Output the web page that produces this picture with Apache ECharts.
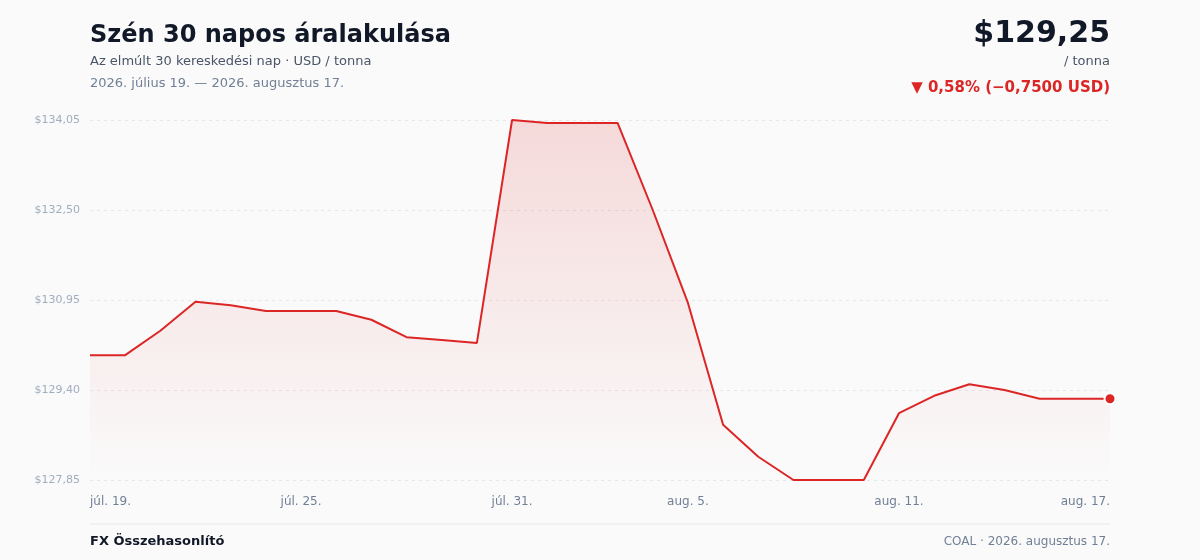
<!DOCTYPE html>
<html>
<head>
<meta charset="utf-8">
<script src="https://cdn.jsdelivr.net/npm/echarts@6/dist/echarts.min.js"></script>
<style>
html,body{margin:0;padding:0;background:#fafafa;}
#chart{width:1200px;height:560px;}
</style>
</head>
<body>
<div id="chart"></div>
<script>
const categories = ["júl. 19.","júl. 20.","júl. 21.","júl. 22.","júl. 23.","júl. 24.","júl. 25.","júl. 26.","júl. 27.","júl. 28.","júl. 29.","júl. 30.","júl. 31.","aug. 1.","aug. 2.","aug. 3.","aug. 4.","aug. 5.","aug. 6.","aug. 7.","aug. 8.","aug. 9.","aug. 10.","aug. 11.","aug. 12.","aug. 13.","aug. 14.","aug. 15.","aug. 16.","aug. 17."];
const prices = [130.00,130.00,130.42,130.92,130.86,130.76,130.76,130.76,130.61,130.31,130.26,130.21,134.05,134.00,134.00,134.00,132.50,130.90,128.80,128.25,127.85,127.85,127.85,129.00,129.30,129.50,129.40,129.25,129.25,129.25];
const shownTickLabels = ["júl. 19.","júl. 25.","júl. 31.","aug. 5.","aug. 11.","aug. 17."];
const yMin = 127.85, yMax = 134.05, yStep = 1.55;

const FONT = '"DejaVu Sans", sans-serif';
const chart = echarts.init(document.getElementById('chart'), null, {renderer:'canvas'});
const fmtUSD = v => '$' + v.toFixed(2).replace('.', ',');
const T = (text, pos, size, weight, color) => Object.assign({text, padding: 0,
  textStyle: {fontFamily: FONT, fontSize: size, fontWeight: weight, color}}, pos);

chart.setOption({
  backgroundColor: '#fafafa',
  textStyle: {fontFamily: FONT},
  animation: false,
  title: [
    T('Szén 30 napos áralakulása', {left: 90, top: 24}, 24, 'bold', '#111827'),
    T('Az elmúlt 30 kereskedési nap · USD / tonna', {left: 90, top: 55}, 13, 'normal', '#4a5568'),
    T('2026. július 19. — 2026. augusztus 17.', {left: 90, top: 77}, 13, 'normal', '#718096'),
    T('$129,25', {right: 90, top: 19}, 30, 'bold', '#111827'),
    T('/ tonna', {right: 90, top: 55}, 13, 'normal', '#4a5568'),
    T('▼ 0,58% (−0,7500 USD)', {right: 90, top: 81}, 15, 'bold', '#dc2626'),
    T('FX Összehasonlító', {left: 90, top: 535}, 13, 'bold', '#111827'),
    T('COAL · 2026. augusztus 17.', {right: 90, top: 536}, 12, 'normal', '#718096')
  ],
  graphic: [
    {type: 'line', shape: {x1: 90, y1: 524, x2: 1110, y2: 524},
     style: {stroke: '#e8e9ec', lineWidth: 1}}
  ],
  grid: {left: 90, right: 90, top: 120, bottom: 80, containLabel: false},
  xAxis: {
    type: 'category',
    data: categories,
    boundaryGap: false,
    axisLine: {show: false},
    axisTick: {show: false},
    axisLabel: {
      interval: (i, v) => shownTickLabels.includes(v),
      color: '#718096', fontSize: 12, fontFamily: FONT, margin: 16,
      alignMinLabel: 'left', alignMaxLabel: 'right'
    },
    splitLine: {show: false}
  },
  yAxis: {
    type: 'value',
    min: yMin, max: yMax, interval: yStep,
    axisLine: {show: false},
    axisTick: {show: false},
    axisLabel: {formatter: fmtUSD, color: '#a0aec0', fontSize: 11, fontFamily: FONT, margin: 10},
    splitLine: {show: true, lineStyle: {color: '#e5e7eb', type: [3, 4], width: 1}}
  },
  series: [
    {
      type: 'line',
      data: prices,
      symbol: 'none',
      lineStyle: {color: '#dc2626', width: 2},
      areaStyle: {
        color: new echarts.graphic.LinearGradient(0, 0, 0, 1, [
          {offset: 0, color: 'rgba(220,38,38,0.22)'},
          {offset: 1, color: 'rgba(220,38,38,0.0)'}
        ])
      },
      z: 2
    },
    {
      type: 'scatter',
      data: [[categories.length - 1, prices[prices.length - 1]]],
      symbol: 'circle',
      symbolSize: 11,
      itemStyle: {color: '#dc2626', borderColor: '#ffffff', borderWidth: 2, opacity: 1},
      z: 3
    }
  ]
});
</script>
</body>
</html>
